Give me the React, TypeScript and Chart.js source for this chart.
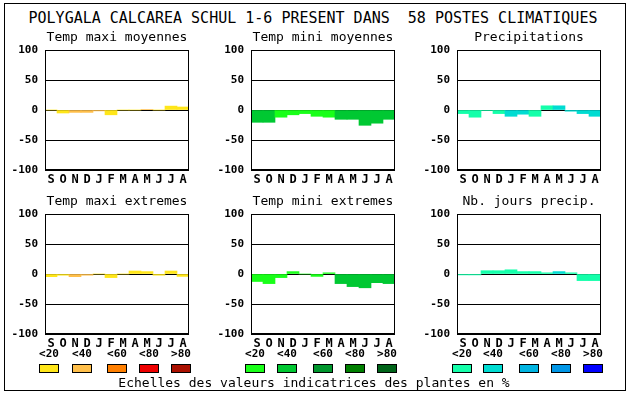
import React, { useEffect, useRef } from "react";
import { Chart, registerables } from "chart.js";

Chart.register(...registerables);

const MONO = "'DejaVu Sans Mono', 'Liberation Mono', monospace";

const mainTitle = "POLYGALA CALCAREA SCHUL 1-6 PRESENT DANS  58 POSTES CLIMATIQUES";
const footerText = "Echelles des valeurs indicatrices des plantes en %";

const months = ["S", "O", "N", "D", "J", "F", "M", "A", "M", "J", "J", "A"];
const yTicks = [-100, -50, 0, 50, 100];
const classLabels = ["<20", "<40", "<60", "<80", ">80"];

const warmPalette = ["#ffe619", "#ffbf4a", "#ff7f00", "#ee0000", "#aa1000"];
const greenPalette = ["#19ff19", "#00c832", "#00962d", "#007f00", "#006419"];
const bluePalette = ["#14ffaa", "#00dcd2", "#00b4e1", "#0096e6", "#0000ff"];

const tmaxMoyValues = [0, -5, -4, -4, -1.5, -8, 0, 0, 1, 0, 6.5, 5];
const tmaxMoyClasses = [0, 0, 1, 1, 1, 0, 0, 0, 1, 0, 0, 0];

const tminMoyValues = [-20.5, -20.5, -12, -8, -6, -10.5, -12, -15.5, -15.5, -25.5, -22, -15.5];
const tminMoyClasses = [1, 1, 0, 0, 0, 0, 0, 1, 1, 1, 1, 1];

const precipValues = [-6, -12, -1, -6, -10.5, -7, -10.5, 7, 7, -2, -6, -10.5];
const precipClasses = [0, 0, 0, 0, 1, 1, 0, 0, 1, 1, 1, 1];

const tmaxExtValues = [-4.5, -2, -4.5, -2, 0, -6, 0, 5, 4, -2, 5, -4];
const tmaxExtClasses = [0, 0, 1, 1, 0, 0, 0, 0, 0, 0, 0, 0];

const tminExtValues = [-12.5, -16, -6, 4, 0, -4, 2, -16, -21, -23, -14.5, -16];
const tminExtClasses = [0, 0, 0, 0, 0, 0, 0, 1, 1, 1, 1, 1];

const nbJoursValues = [-1.5, -1.5, 5.5, 5.5, 7, 4, 4, 2, 4, 2, -11, -11];
const nbJoursClasses = [0, 0, 0, 0, 0, 0, 0, 0, 1, 0, 0, 0];

const panels = [
  { title: "Temp maxi moyennes", values: tmaxMoyValues, classes: tmaxMoyClasses, palette: warmPalette, col: 0, row: 0 },
  { title: "Temp mini moyennes", values: tminMoyValues, classes: tminMoyClasses, palette: greenPalette, col: 1, row: 0 },
  { title: "Precipitations", values: precipValues, classes: precipClasses, palette: bluePalette, col: 2, row: 0 },
  { title: "Temp maxi extremes", values: tmaxExtValues, classes: tmaxExtClasses, palette: warmPalette, col: 0, row: 1 },
  { title: "Temp mini extremes", values: tminExtValues, classes: tminExtClasses, palette: greenPalette, col: 1, row: 1 },
  { title: "Nb. jours precip.", values: nbJoursValues, classes: nbJoursClasses, palette: bluePalette, col: 2, row: 1 },
];

const plotLefts = [45, 251, 457];
const plotTops = [50, 214];
const PLOT_W = 144;
const PLOT_H = 120;
const AXIS_W = 42;
const TITLE_H = 22;
const XAXIS_H = 18;
const RIGHT_PAD = 4;

const legendGroups = [
  { palette: warmPalette, lefts: [39, 72, 107, 139, 171] },
  { palette: greenPalette, lefts: [245, 277, 313, 345, 377] },
  { palette: bluePalette, lefts: [452, 483, 519, 551, 583] },
];

const framePlugin = {
  id: "frame",
  afterDraw(chart: any) {
    const { ctx, chartArea } = chart;
    ctx.save();
    ctx.strokeStyle = "#000";
    ctx.lineWidth = 1;
    ctx.strokeRect(
      Math.round(chartArea.left) + 0.5,
      Math.round(chartArea.top) + 0.5,
      Math.round(chartArea.right - chartArea.left) - 1,
      Math.round(chartArea.bottom - chartArea.top) - 1
    );
    ctx.restore();
  },
};

function Panel(props: { title: string; values: number[]; classes: number[]; palette: string[]; col: number; row: number }) {
  const ref = useRef<HTMLCanvasElement | null>(null);
  const width = AXIS_W + PLOT_W + RIGHT_PAD;
  const height = TITLE_H + PLOT_H + XAXIS_H;
  useEffect(() => {
    if (!ref.current) return;
    const chart = new Chart(ref.current, {
      type: "bar",
      data: {
        labels: months,
        datasets: [
          {
            data: props.values,
            backgroundColor: props.classes.map((c) => props.palette[c]),
            borderWidth: 0,
            barPercentage: 1,
            categoryPercentage: 1,
          },
        ],
      },
      options: {
        animation: false,
        responsive: false,
        devicePixelRatio: 1,
        layout: { autoPadding: false, padding: { left: 0, right: RIGHT_PAD, top: 0, bottom: 0 } },
        plugins: {
          legend: { display: false },
          tooltip: { enabled: false },
          title: {
            display: true,
            text: props.title,
            fullSize: false,
            align: "center",
            color: "#000",
            font: { family: MONO, size: 13, weight: "normal", lineHeight: "16px" } as any,
            padding: { top: 2, bottom: 4 },
          },
        },
        scales: {
          x: {
            type: "category",
            offset: true,
            grid: { display: false },
            border: { display: false },
            ticks: {
              color: "#000",
              font: { family: MONO, size: 12, weight: "bold" },
              padding: -5,
              maxRotation: 0,
              autoSkip: false,
            },
            afterFit: (s: any) => {
              s.height = XAXIS_H;
            },
          },
          y: {
            type: "linear",
            min: yTicks[0],
            max: yTicks[yTicks.length - 1],
            z: 1,
            afterBuildTicks: (s: any) => {
              s.ticks = yTicks.map((v) => ({ value: v }));
            },
            grid: { color: "#000", lineWidth: 1, drawTicks: false },
            border: { display: false },
            ticks: {
              color: "#000",
              font: { family: MONO, size: 11, weight: "bold" },
              padding: 7,
            },
            afterFit: (s: any) => {
              s.width = AXIS_W;
            },
          },
        },
      },
      plugins: [framePlugin],
    });
    return () => chart.destroy();
  }, []);
  return (
    <canvas
      ref={ref}
      width={width}
      height={height}
      style={{
        position: "absolute",
        left: plotLefts[props.col] - AXIS_W,
        top: plotTops[props.row] - TITLE_H,
        width,
        height,
      }}
    />
  );
}

export default function App() {
  return (
    <div
      style={{
        position: "absolute",
        left: 0,
        top: 0,
        width: 630,
        height: 394,
        background: "#fff",
        fontFamily: MONO,
        color: "#000",
        overflow: "hidden",
      }}
    >
      <div
        style={{
          position: "absolute",
          left: 4,
          top: 3,
          width: 622,
          height: 388,
          border: "1px solid #000",
          boxSizing: "border-box",
        }}
      />
      <div
        style={{
          position: "absolute",
          left: 0,
          top: 8,
          width: 626,
          lineHeight: "20px",
          fontSize: 15,
          textAlign: "center",
          whiteSpace: "pre",
        }}
      >
        {mainTitle}
      </div>
      {panels.map((p, i) => (
        <Panel key={i} {...p} />
      ))}
      {legendGroups.map((g, gi) =>
        g.lefts.map((l, i) => (
          <React.Fragment key={gi + "-" + i}>
            <div
              style={{
                position: "absolute",
                left: l - 10,
                top: 347,
                width: 40,
                lineHeight: "14px",
                fontSize: 11,
                fontWeight: "bold",
                textAlign: "center",
              }}
            >
              {classLabels[i]}
            </div>
            <div
              style={{
                position: "absolute",
                left: l,
                top: 364,
                width: 20,
                height: 9,
                background: g.palette[i],
                border: "1px solid #000",
                boxSizing: "border-box",
              }}
            />
          </React.Fragment>
        ))
      )}
      <div
        style={{
          position: "absolute",
          left: 0,
          top: 375,
          width: 628,
          lineHeight: "16px",
          fontSize: 13,
          textAlign: "center",
          whiteSpace: "pre",
        }}
      >
        {footerText}
      </div>
    </div>
  );
}
